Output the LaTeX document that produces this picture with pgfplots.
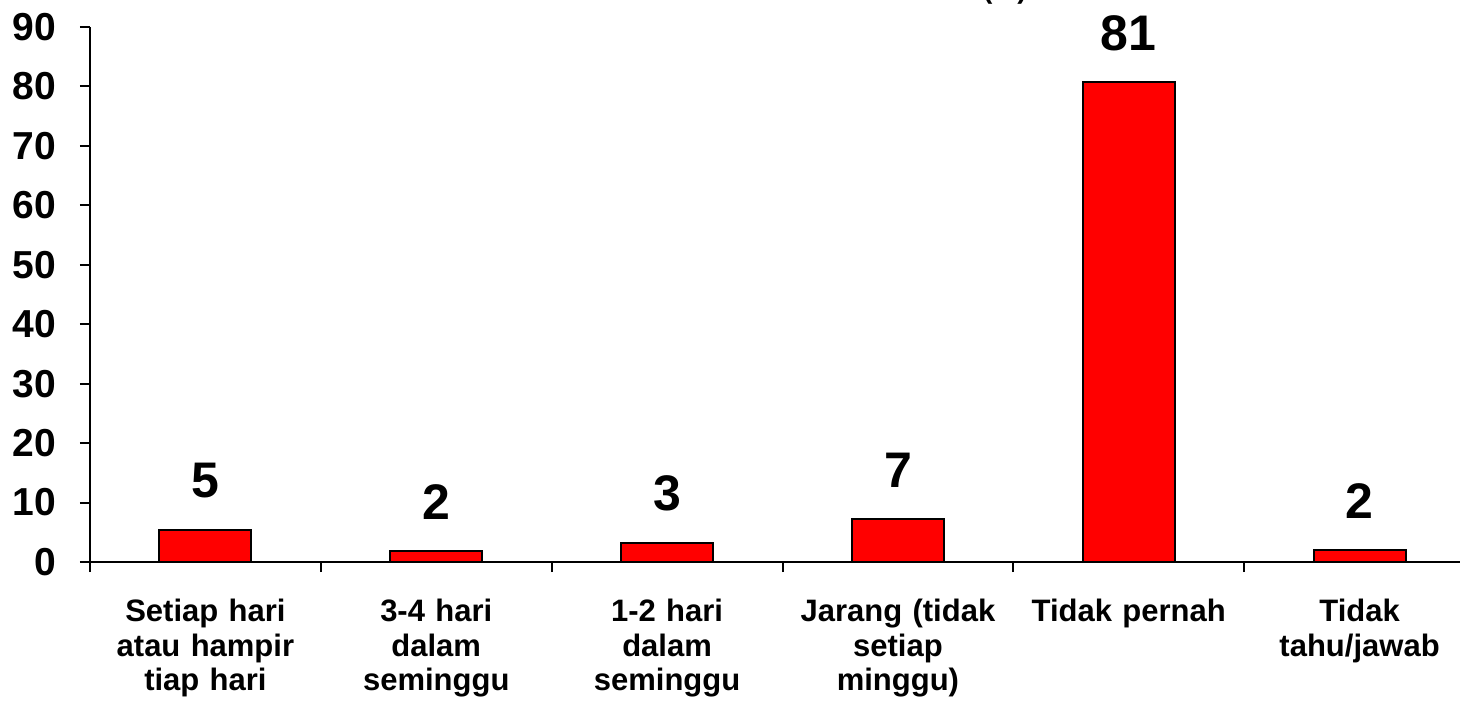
\documentclass[border=0pt]{standalone}
\usepackage{fontspec}
\setmainfont{Liberation Sans}
\usepackage{pgfplots}
\pgfplotsset{compat=1.18}
\begin{document}
\begin{tikzpicture}
\path[use as bounding box] (-45pt,-74.5pt) rectangle (685pt,281pt);
\clip (-45pt,-74.5pt) rectangle (685pt,281pt);
\begin{axis}[at={(0pt,0pt)}, anchor=south west, scale only axis,
 width=692.5pt, height=267.5pt,
 xmin=-0.5, xmax=5.5, ymin=0, ymax=90,
 axis lines=left, axis line style={-, line width=1pt},
 ybar, bar width=46pt,
 ytick={0,10,...,90},
 xtick={0,...,5},
 xticklabels={Setiap hari\\atau hampir\\tiap hari, 3-4 hari\\dalam\\seminggu, 1-2 hari\\dalam\\seminggu, Jarang (tidak\\setiap\\minggu), Tidak pernah, Tidak\\tahu/jawab},
 minor xtick={-0.5,0.5,...,5.5},
 tick align=outside,
 major tick length=5pt, minor tick length=5pt,
 major x tick style={draw=none},
 every tick/.style={black, line width=1pt},
 minor tick style={black, line width=1pt},
 ytick style={black, line width=1pt},
 /pgf/number format/assume math mode=true,
 yticklabel style={font=\bfseries\fontsize{19.5}{22}\selectfont, xshift=-8.5pt},
 xticklabel style={font=\bfseries\fontsize{15.5}{17.25}\selectfont, text width=115pt, align=center, yshift=-10pt},
 nodes near coords, point meta=explicit symbolic,
 every node near coord/.append style={font=\bfseries\fontsize{25}{30}\selectfont, yshift=12pt},
]
\addplot[fill=red, draw=black, line width=1pt] table[meta=label] {
x y label
0 5.4 5
1 1.8 2
2 3.2 3
3 7.2 7
4 80.7 81
5 2.0 2
};
\end{axis}
\node[anchor=south, inner sep=0pt, font=\bfseries\fontsize{14}{17}\selectfont] at (457.5pt,278.5pt) {(\%)};
\end{tikzpicture}
\end{document}
